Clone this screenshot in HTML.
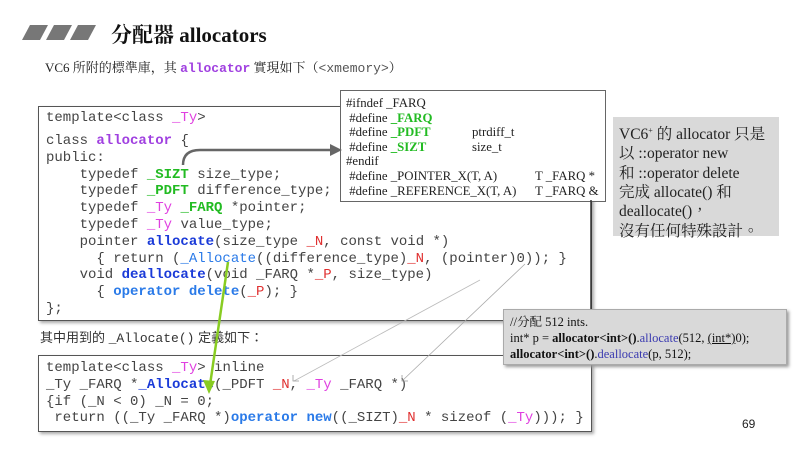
<!DOCTYPE html>
<html><head><meta charset="utf-8"><style>
body{margin:0;width:800px;height:452px;background:#fff;position:relative;overflow:hidden;font-family:"Liberation Serif","Noto Serif CJK SC",serif;}
.abs{position:absolute}
pre{margin:0;font-family:"Liberation Mono",monospace;font-size:14px;line-height:16.8px;color:#444;}
.m{color:#e040e0}.g{color:#22bb22;font-weight:bold}.b{color:#1a3ad8;font-weight:bold}.lb{color:#2a7ae8;font-weight:bold}.r{color:#e03030}.p{color:#a040e0;font-weight:bold}
.def{font-size:12.8px;line-height:14.6px;color:#222}
</style></head><body>
<svg class="abs" style="left:0;top:0" width="800" height="452">
<polygon points="22,40 30,25 48,25 40,40" fill="#777"/>
<polygon points="46,40 54,25 72,25 64,40" fill="#777"/>
<polygon points="70,40 78,25 96,25 88,40" fill="#777"/>
</svg>
<div class="abs" style="left:111px;top:19px;font-size:21px;font-weight:bold;color:#111;font-family:'Liberation Serif','Noto Serif CJK SC',serif">分配器 allocators</div>
<div class="abs" style="left:45px;top:57px;font-size:13px;color:#222">VC6 所附的標準庫，其 <span style="font-family:'Liberation Mono',monospace;color:#a040e0;font-weight:bold">allocator</span> 實現如下（<span style="font-family:'Liberation Mono',monospace;color:#555">&lt;xmemory&gt;</span>）</div>

<div class="abs" style="left:38px;top:106px;width:552px;height:213px;border:1.5px solid #555;box-shadow:2px 2px 3px #aaa;background:#fff"></div>
<pre class="abs" style="left:46px;top:110px">template&lt;class <span class="m">_Ty</span>&gt;</pre>
<pre class="abs" style="left:46px;top:133px">class <span class="p">allocator</span> {
public:
    typedef <span class="g">_SIZT</span> size_type;
    typedef <span class="g">_PDFT</span> difference_type;
    typedef <span class="m">_Ty</span> <span class="g">_FARQ</span> *pointer;
    typedef <span class="m">_Ty</span> value_type;
    pointer <span class="b">allocate</span>(size_type <span class="r">_N</span>, const void *)
      { return (<span style="color:#2a7ae8">_Allocate</span>((difference_type)<span class="r">_N</span>, (pointer)0)); }
    void <span class="b">deallocate</span>(void _FARQ *<span class="r">_P</span>, size_type)
      { <span class="lb">operator delete</span>(<span class="r">_P</span>); }
};</pre>

<div class="abs" style="left:340px;top:90px;width:264px;height:110px;border:1px solid #666;background:#fff"></div>
<div class="abs def" style="left:346px;top:96px">#ifndef _FARQ<br>&nbsp;#define <span class="g">_FARQ</span><br>&nbsp;#define <span class="g">_PDFT</span><br>&nbsp;#define <span class="g">_SIZT</span><br>#endif<br>&nbsp;#define _POINTER_X(T, A)<br>&nbsp;#define _REFERENCE_X(T, A)</div>
<div class="abs def" style="left:472px;top:125px">ptrdiff_t<br>size_t</div>
<div class="abs def" style="left:535px;top:169px">T _FARQ *<br>T _FARQ &amp;</div>

<div class="abs" style="left:613px;top:117px;width:166px;height:119px;background:#d9d9d9;font-size:15.5px;line-height:19.3px;color:#222;padding:4px 0 0 6px;box-sizing:border-box;font-family:'Liberation Serif','Noto Serif CJK TC',serif">VC6<sup style="font-size:8px">+</sup> 的 allocator 只是<br>以 ::operator new<br>和 ::operator delete<br>完成 allocate() 和<br>deallocate()，<br>沒有任何特殊設計。</div>

<div class="abs" style="left:40px;top:327px;font-size:13px;color:#333;font-family:'Liberation Sans','Noto Sans CJK TC',sans-serif">其中用到的 <span style="font-family:'Liberation Mono',monospace">_Allocate()</span> 定義如下：</div>

<div class="abs" style="left:38px;top:355px;width:552px;height:75px;border:1.5px solid #555;box-shadow:2px 2px 3px #aaa;background:#fff"></div>
<pre class="abs" style="left:46px;top:360px;line-height:16.8px">template&lt;class <span class="m">_Ty</span>&gt; inline
_Ty _FARQ *<span class="b">_Allocate</span>(_PDFT <span class="r">_N</span>, <span class="m">_Ty</span> _FARQ *)
{if (_N &lt; 0) _N = 0;
 return ((_Ty _FARQ *)<span class="lb">operator new</span>((_SIZT)<span class="r">_N</span> * sizeof (<span class="m">_Ty</span>))); }</pre>

<div class="abs" style="left:503px;top:309px;width:284px;height:56px;background:#d9d9d9;border:1px solid #aaa;box-shadow:2px 2px 3px #999;font-size:12.5px;line-height:16px;color:#111;padding:4px 0 0 6px;box-sizing:border-box;font-family:'Liberation Serif','Noto Serif CJK TC',serif">//分配 512 ints.<br>int* p = <b>allocator&lt;int&gt;()</b>.<span style="color:#3a3ab0">allocate</span>(512, <u>(int*)</u>0);<br><b>allocator&lt;int&gt;()</b>.<span style="color:#3a3ab0">deallocate</span>(p, 512);</div>

<svg class="abs" style="left:0;top:0" width="800" height="452">
<line x1="591" y1="200" x2="591" y2="309" stroke="#333" stroke-width="1.5"/>
<path d="M183,165 Q183,150 200,150 L330,150" fill="none" stroke="#666" stroke-width="2.5"/>
<polygon points="330,144 342,150 330,156" fill="#666"/>
<line x1="228" y1="262" x2="210" y2="385" stroke="#88cc22" stroke-width="2.5"/>
<polygon points="203,380 209,394 215,381" fill="#88cc22"/>
<line x1="525" y1="264" x2="402" y2="381" stroke="#aaa" stroke-width="0.8"/>
<polyline points="402,375 402,381 408,381" fill="none" stroke="#999" stroke-width="0.8"/>
<line x1="480" y1="280" x2="294" y2="381" stroke="#bbb" stroke-width="0.8"/>
<polyline points="293,375 293,381 299,381" fill="none" stroke="#999" stroke-width="0.8"/>
</svg>
<div class="abs" style="left:742px;top:417px;font-size:12px;color:#222;font-family:'Liberation Sans',sans-serif">69</div>
</body></html>
